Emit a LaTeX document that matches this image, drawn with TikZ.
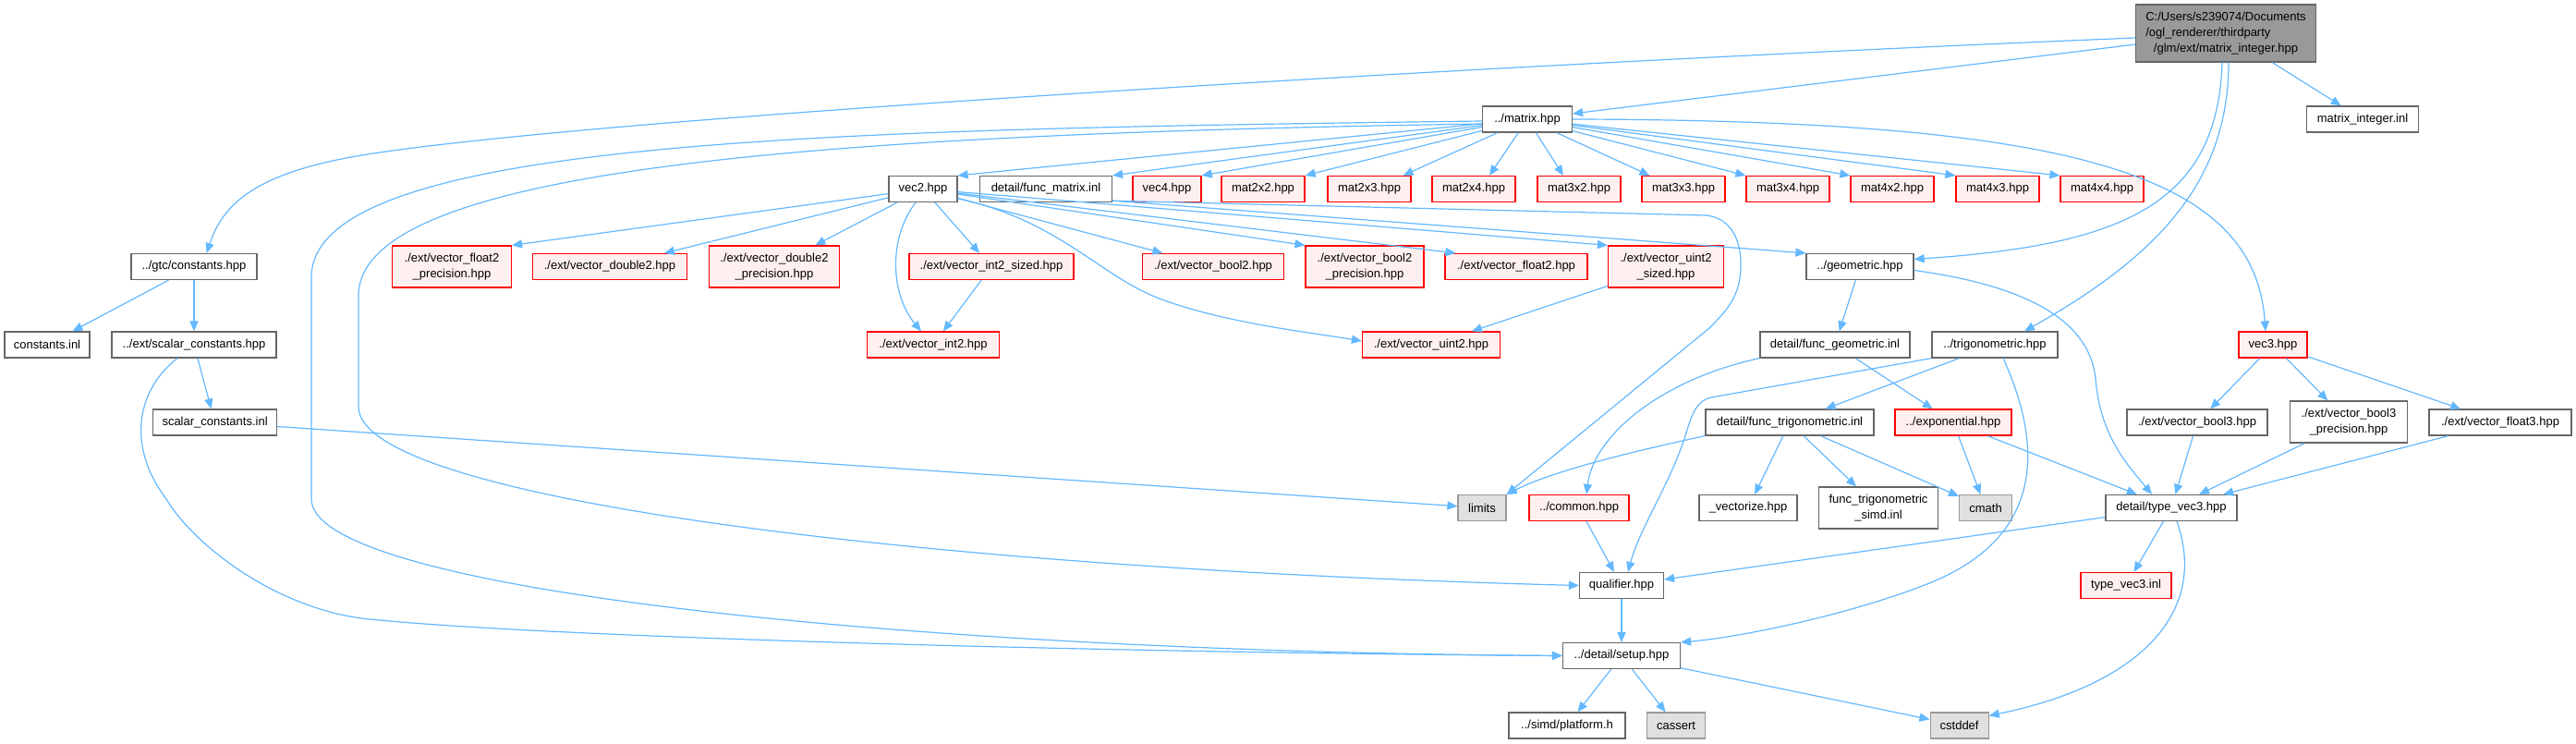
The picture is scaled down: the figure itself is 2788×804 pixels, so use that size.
\documentclass[tikz,border=0pt]{standalone}
\usepackage{fontspec}
\setmainfont{Liberation Sans}
\usetikzlibrary{arrows.meta,calc}
\definecolor{edgec}{HTML}{63B8FF}
\definecolor{rootfill}{HTML}{999999}
\definecolor{greyforty}{HTML}{666666}
\definecolor{redfill}{HTML}{FFF0F0}
\definecolor{sysfill}{HTML}{E0E0E0}
\definecolor{sysdraw}{HTML}{999999}
\begin{document}
\begin{tikzpicture}[x=0.5pt,y=-0.5pt,
 box/.style={draw=greyforty, fill=white, line width=0.6pt, inner sep=0pt, minimum height=14pt, align=center, font=\fontsize{6.5}{8.4}\selectfont},
 bw/.style={minimum width=#1*0.5pt},
 two/.style={minimum height=22.5pt},
 rbox/.style={box, draw=red, fill=redfill},
 sbox/.style={box, draw=sysdraw, fill=sysfill},
 edge/.style={draw=edgec, line width=0.6pt, -{Triangle[length=5.5pt,width=4.6pt]}},
]
\useasboundingbox (0,0) rectangle (2788,804);
% row 0
\node[box,bw=195,minimum height=31pt,fill=rootfill,font=\fontsize{6.5}{8.6}\selectfont] (root) at (2409,36)
 {\begin{tabular}{@{}l@{}}C:/Users/s239074/Documents\\/ogl\_renderer/thirdparty\\\multicolumn{1}{@{}c@{}}{/glm/ext/matrix\_integer.hpp}\end{tabular}};
% row 1
\node[box,bw=121] (miinl) at (2557,129) {matrix\_integer.inl};
\node[box,bw=97] (matrix) at (1653,129) {../matrix.hpp};
% row 2
\node[box,bw=74] (vec2) at (999,204.5) {vec2.hpp};
\node[box,bw=143] (fmat) at (1132,204.5) {detail/func\_matrix.inl};
\node[rbox,bw=74] (vec4) at (1263,204.5) {vec4.hpp};
\node[rbox,bw=90] (m22) at (1367,204.5) {mat2x2.hpp};
\node[rbox,bw=90] (m23) at (1482,204.5) {mat2x3.hpp};
\node[rbox,bw=90] (m24) at (1595,204.5) {mat2x4.hpp};
\node[rbox,bw=90] (m32) at (1709,204.5) {mat3x2.hpp};
\node[rbox,bw=90] (m33) at (1822,204.5) {mat3x3.hpp};
\node[rbox,bw=90] (m34) at (1935,204.5) {mat3x4.hpp};
\node[rbox,bw=90] (m42) at (2048,204.5) {mat4x2.hpp};
\node[rbox,bw=90] (m43) at (2162,204.5) {mat4x3.hpp};
\node[rbox,bw=90] (m44) at (2275,204.5) {mat4x4.hpp};
% row 3
\node[box,bw=136] (gtc) at (210,288.5) {../gtc/constants.hpp};
\node[rbox,bw=129,two] (vf2p) at (489,288.5) {./ext/vector\_float2\\\_precision.hpp};
\node[rbox,bw=167] (vd2) at (660,288.5) {./ext/vector\_double2.hpp};
\node[rbox,bw=141,two] (vd2p) at (838,288.5) {./ext/vector\_double2\\\_precision.hpp};
\node[rbox,bw=178] (vi2s) at (1073,288.5) {./ext/vector\_int2\_sized.hpp};
\node[rbox,bw=153] (vb2) at (1313,288.5) {./ext/vector\_bool2.hpp};
\node[rbox,bw=128,two] (vb2p) at (1477,288.5) {./ext/vector\_bool2\\\_precision.hpp};
\node[rbox,bw=154] (vf2) at (1641,288.5) {./ext/vector\_float2.hpp};
\node[rbox,bw=125,two] (vu2s) at (1803,288.5) {./ext/vector\_uint2\\\_sized.hpp};
\node[box,bw=116] (geom) at (2013,288.5) {../geometric.hpp};
% row 4
\node[box,bw=92] (constinl) at (51,373) {constants.inl};
\node[box,bw=178] (scalhpp) at (210,373) {../ext/scalar\_constants.hpp};
\node[rbox,bw=143] (vi2) at (1010,373) {./ext/vector\_int2.hpp};
\node[rbox,bw=149] (vu2) at (1549,373) {./ext/vector\_uint2.hpp};
\node[box,bw=162] (fgeom) at (1986,373) {detail/func\_geometric.inl};
\node[box,bw=136] (trig) at (2159,373) {../trigonometric.hpp};
\node[rbox,bw=74] (vec3) at (2460,373) {vec3.hpp};
% row 5
\node[box,bw=134] (scalinl) at (232.6,457) {scalar\_constants.inl};
\node[box,bw=182] (ftrig) at (1937,457) {detail/func\_trigonometric.inl};
\node[rbox,bw=126] (expo) at (2114,457) {../exponential.hpp};
\node[box,bw=152] (vb3) at (2378,457) {./ext/vector\_bool3.hpp};
\node[box,bw=127,two] (vb3p) at (2542,456.5) {./ext/vector\_bool3\\\_precision.hpp};
\node[box,bw=154] (vf3) at (2706,457) {./ext/vector\_float3.hpp};
% row 6
\node[sbox,bw=52] (limits) at (1604,549.5) {limits};
\node[rbox,bw=108] (common) at (1709,549.5) {../common.hpp};
\node[box,bw=106] (vect) at (1892,549.5) {\_vectorize.hpp};
\node[box,bw=129,two] (ftsimd) at (2033,549.5) {func\_trigonometric\\\_simd.inl};
\node[sbox,bw=57] (cmath) at (2149,549.5) {cmath};
\node[box,bw=142] (tv3) at (2350,549.5) {detail/type\_vec3.hpp};
% row 7-9
\node[box,bw=91] (qual) at (1755,633.5) {qualifier.hpp};
\node[rbox,bw=98] (tv3inl) at (2301,633.5) {type\_vec3.inl};
\node[box,bw=127] (setup) at (1755,709.5) {../detail/setup.hpp};
\node[box,bw=126] (platform) at (1696,785) {../simd/platform.h};
\node[sbox,bw=63] (cassert) at (1814,785) {cassert};
\node[sbox,bw=63] (cstddef) at (2120.6,785) {cstddef};

% ---- edges from root
\draw[edge] (root) -- (miinl);
\draw[edge] (root) -- (matrix);
\draw[edge] ([yshift=-2.5pt]root.west) .. controls (1600,70) and (600,130) .. (380,170) .. controls (270,190) and (240,225) .. (gtc.47);
\draw[edge] ([xshift=-2pt]root.south) .. controls (2400,220) and (2300,265) .. ([yshift=4pt]geom.east);
\draw[edge] ([xshift=1.5pt]root.south) .. controls (2412,200) and (2330,280) .. ([xshift=16pt]trig.north);
% ---- matrix
\draw[edge] (matrix) -- (vec2.north east);
\draw[edge] (matrix) -- (fmat.north east);
\draw[edge] (matrix) -- (vec4.north east);
\draw[edge] (matrix) -- (m22.north east);
\draw[edge] (matrix) -- ([xshift=-4.5pt]m23.north east);
\draw[edge] (matrix) -- ([xshift=8.5pt]m24.north);
\draw[edge] (matrix) -- ([xshift=-8.5pt]m32.north);
\draw[edge] (matrix) -- ([xshift=4.5pt]m33.north west);
\draw[edge] (matrix) -- (m34.north west);
\draw[edge] (matrix) -- (m42.north west);
\draw[edge] (matrix) -- (m43.north west);
\draw[edge] (matrix) -- (m44.north west);
\draw[edge] (matrix.east) .. controls (2250,130) and (2440,190) .. ([xshift=-4pt]vec3.north);
\draw[edge] ([yshift=-1pt]matrix.west) .. controls (900,140) and (337,150) .. (337,300) -- (337,540) .. controls (337,640) and (1000,705) .. (setup.west);
\draw[edge] ([yshift=-2.5pt]matrix.west) .. controls (900,145) and (388,180) .. (388,320) -- (388,440) .. controls (388,540) and (1000,615) .. (qual.west);
% ---- vec2
\draw[edge] (vec2) -- (vf2p.north east);
\draw[edge] (vec2) -- (vd2);
\draw[edge] (vec2) -- (vd2p);
\draw[edge] (vec2) -- (vi2s);
\draw[edge] ([xshift=-4pt]vec2.south) .. controls (960,260) and (965,320) .. ([xshift=-6.5pt]vi2.north);
\draw[edge] (vec2.-15) .. controls (1150,240) and (1190,300) .. (1260,325) .. controls (1330,350) and (1420,360) .. ([yshift=2pt]vu2.west);
\draw[edge] (vec2) -- (vb2);
\draw[edge] (vec2) -- (vb2p.north west);
\draw[edge] (vec2) -- ([xshift=6pt]vf2.north west);
\draw[edge] (vec2) -- (vu2s.north west);
% ---- func_matrix
\draw[edge] (fmat.-10) -- (1846,233) .. controls (1870,235) and (1885,255) .. (1884,290) .. controls (1883,320) and (1870,335) .. (1850,355) -- (limits.north east);
\draw[edge] (fmat.-10) -- (geom.north west);
% ---- constants
\draw[edge] (gtc) -- (constinl);
\draw[edge] (gtc) -- (scalhpp);
\draw[edge] (scalhpp) -- (scalinl);
\draw[edge] ([xshift=-9pt]scalhpp.south) .. controls (150,420) and (135,480) .. (180,540) .. controls (210,590) and (300,660) .. (400,670) .. controls (600,690) and (1200,706) .. (setup.west);
\draw[edge] (scalinl) -- (limits);
% ---- geometric
\draw[edge] (geom) -- (fgeom);
\draw[edge] ([yshift=-2pt]geom.east) .. controls (2200,310) and (2262,350) .. (2268,410) .. controls (2273,470) and (2300,500) .. ([xshift=-10.5pt]tv3.north);
\draw[edge] (fgeom.south west) .. controls (1800,410) and (1725,470) .. ([xshift=4pt]common.north);
\draw[edge] (fgeom) -- (expo);
% ---- trigonometric
\draw[edge] (trig) -- (ftrig);
\draw[edge] (trig.south west) -- (1852,430) .. controls (1838,433) and (1832,445) .. (1826,465) .. controls (1810,520) and (1775,570) .. ([xshift=3.5pt]qual.north);
\draw[edge] ([xshift=4.5pt]trig.south) .. controls (2210,480) and (2215,580) .. (2088,631) .. controls (2000,666) and (1880,690) .. (setup.north east);
\draw[edge] (ftrig.south west) .. controls (1760,490) and (1680,510) .. (limits.north east);
\draw[edge] (ftrig) -- (vect);
\draw[edge] (ftrig) -- (ftsimd);
\draw[edge] (ftrig) -- (cmath);
% ---- exponential
\draw[edge] (expo) -- (cmath);
\draw[edge] (expo) -- (tv3);
% ---- vec3
\draw[edge] (vec3) -- (vb3);
\draw[edge] (vec3) -- (vb3p);
\draw[edge] (vec3) -- (vf3);
\draw[edge] (vb3) -- (tv3);
\draw[edge] (vb3p) -- (tv3);
\draw[edge] (vf3) -- (tv3);
% ---- type_vec3
\draw[edge] (tv3) -- (qual);
\draw[edge] (tv3) -- (tv3inl);
\draw[edge] ([xshift=3pt]tv3.south) .. controls (2390,660) and (2320,740) .. ([yshift=-2pt]cstddef.north east);
% ---- setup etc.
\draw[edge] (common) -- (qual);
\draw[edge] (qual) -- (setup);
\draw[edge] (setup) -- (platform);
\draw[edge] (setup) -- (cassert);
\draw[edge] (setup) -- (cstddef);
\draw[edge] (vi2s) -- (vi2);
\draw[edge] (vu2s) -- (vu2);
\end{tikzpicture}
\end{document}
